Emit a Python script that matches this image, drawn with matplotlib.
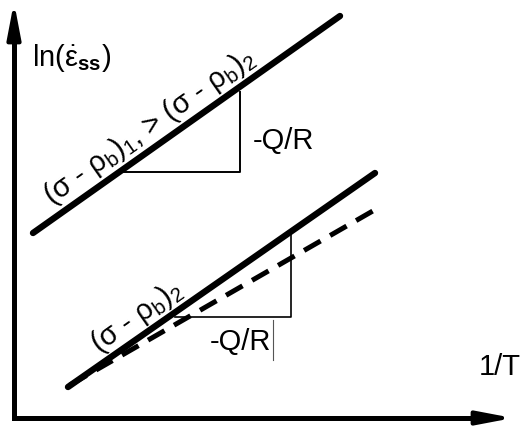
import matplotlib.pyplot as plt

plt.rcParams['font.family'] = ['Liberation Sans', 'DejaVu Sans']
plt.rcParams['mathtext.fontset'] = 'custom'
plt.rcParams['mathtext.rm'] = 'Liberation Sans'
plt.rcParams['mathtext.it'] = 'Liberation Sans:italic'
plt.rcParams['mathtext.bf'] = 'Liberation Sans:bold'

# ln(strain rate) vs 1/T, arbitrary units
upper_x = [0.38, 6.52]
upper_y = [3.70, 8.04]
lower_x = [1.08, 7.22]
lower_y = [0.62, 4.90]
dashed_x = [1.12, 7.28]
dashed_y = [0.66, 4.20]

# slope triangles (-Q/R)
tri_up_x = [2.18, 4.52, 4.52]
tri_up_y = [4.92, 4.92, 6.52]
tri_low_x = [3.22, 5.54, 5.54]
tri_low_y = [2.02, 2.02, 3.66]
tick_x = [5.18, 5.18]
tick_y = [1.96, 1.16]

fig = plt.figure(figsize=(5.25, 4.28), dpi=100)
ax = fig.add_axes([0, 0, 1, 1])
ax.set_xlim(-0.28, 10.22)
ax.set_ylim(-0.2, 8.36)
ax.axis('off')

# axes with arrows
ax.plot([0, 0, 9.5], [7.8, 0, 0], color='k', lw=3.6, solid_joinstyle='miter',
        solid_capstyle='projecting')
arr = dict(arrowstyle='-|>,head_length=1.05,head_width=0.2', color='k', lw=3.0,
           shrinkA=0, shrinkB=0, mutation_scale=20)
ax.annotate('', xy=(0, 8.32), xytext=(0, 7.5), arrowprops=arr)
ax.annotate('', xy=(9.98, 0), xytext=(9.2, 0), arrowprops=arr)

ax.plot(upper_x, upper_y, color='k', lw=4.6, solid_capstyle='round')
ax.plot(lower_x, lower_y, color='k', lw=4.6, solid_capstyle='round')
ax.plot(dashed_x, dashed_y, color='k', lw=3.6, dashes=(3.8, 2.2))

ax.plot(tri_up_x, tri_up_y, color='k', lw=1.4)
ax.plot(tri_low_x, tri_low_y, color='k', lw=1.2)
ax.plot(tick_x, tick_y, color='#555555', lw=0.8)

fs = 21
ax.text(0.36, 7.2, r'ln($\dot{\mathrm{\varepsilon}}_{\mathbf{ss}}$)', fontsize=fs,
        ha='left', va='center')
ax.text(10.14, 1.02, '1/T', fontsize=fs, ha='right', va='center')
ax.text(5.38, 5.54, '-Q/R', fontsize=fs, ha='center', va='center')
ax.text(4.52, 1.52, '-Q/R', fontsize=fs, ha='center', va='center')

ax.text(2.72, 5.82, r'(σ - ρ$_\mathrm{b}$)$_\mathrm{1}$, > (σ - ρ$_\mathrm{b}$)$_\mathrm{2}$',
        fontsize=fs, ha='center', va='center', rotation=35, rotation_mode='anchor')
ax.text(2.46, 2.02, r'(σ - ρ$_\mathrm{b}$)$_\mathrm{2}$',
        fontsize=fs, ha='center', va='center', rotation=35, rotation_mode='anchor')

fig.savefig('out.png', dpi=100)
